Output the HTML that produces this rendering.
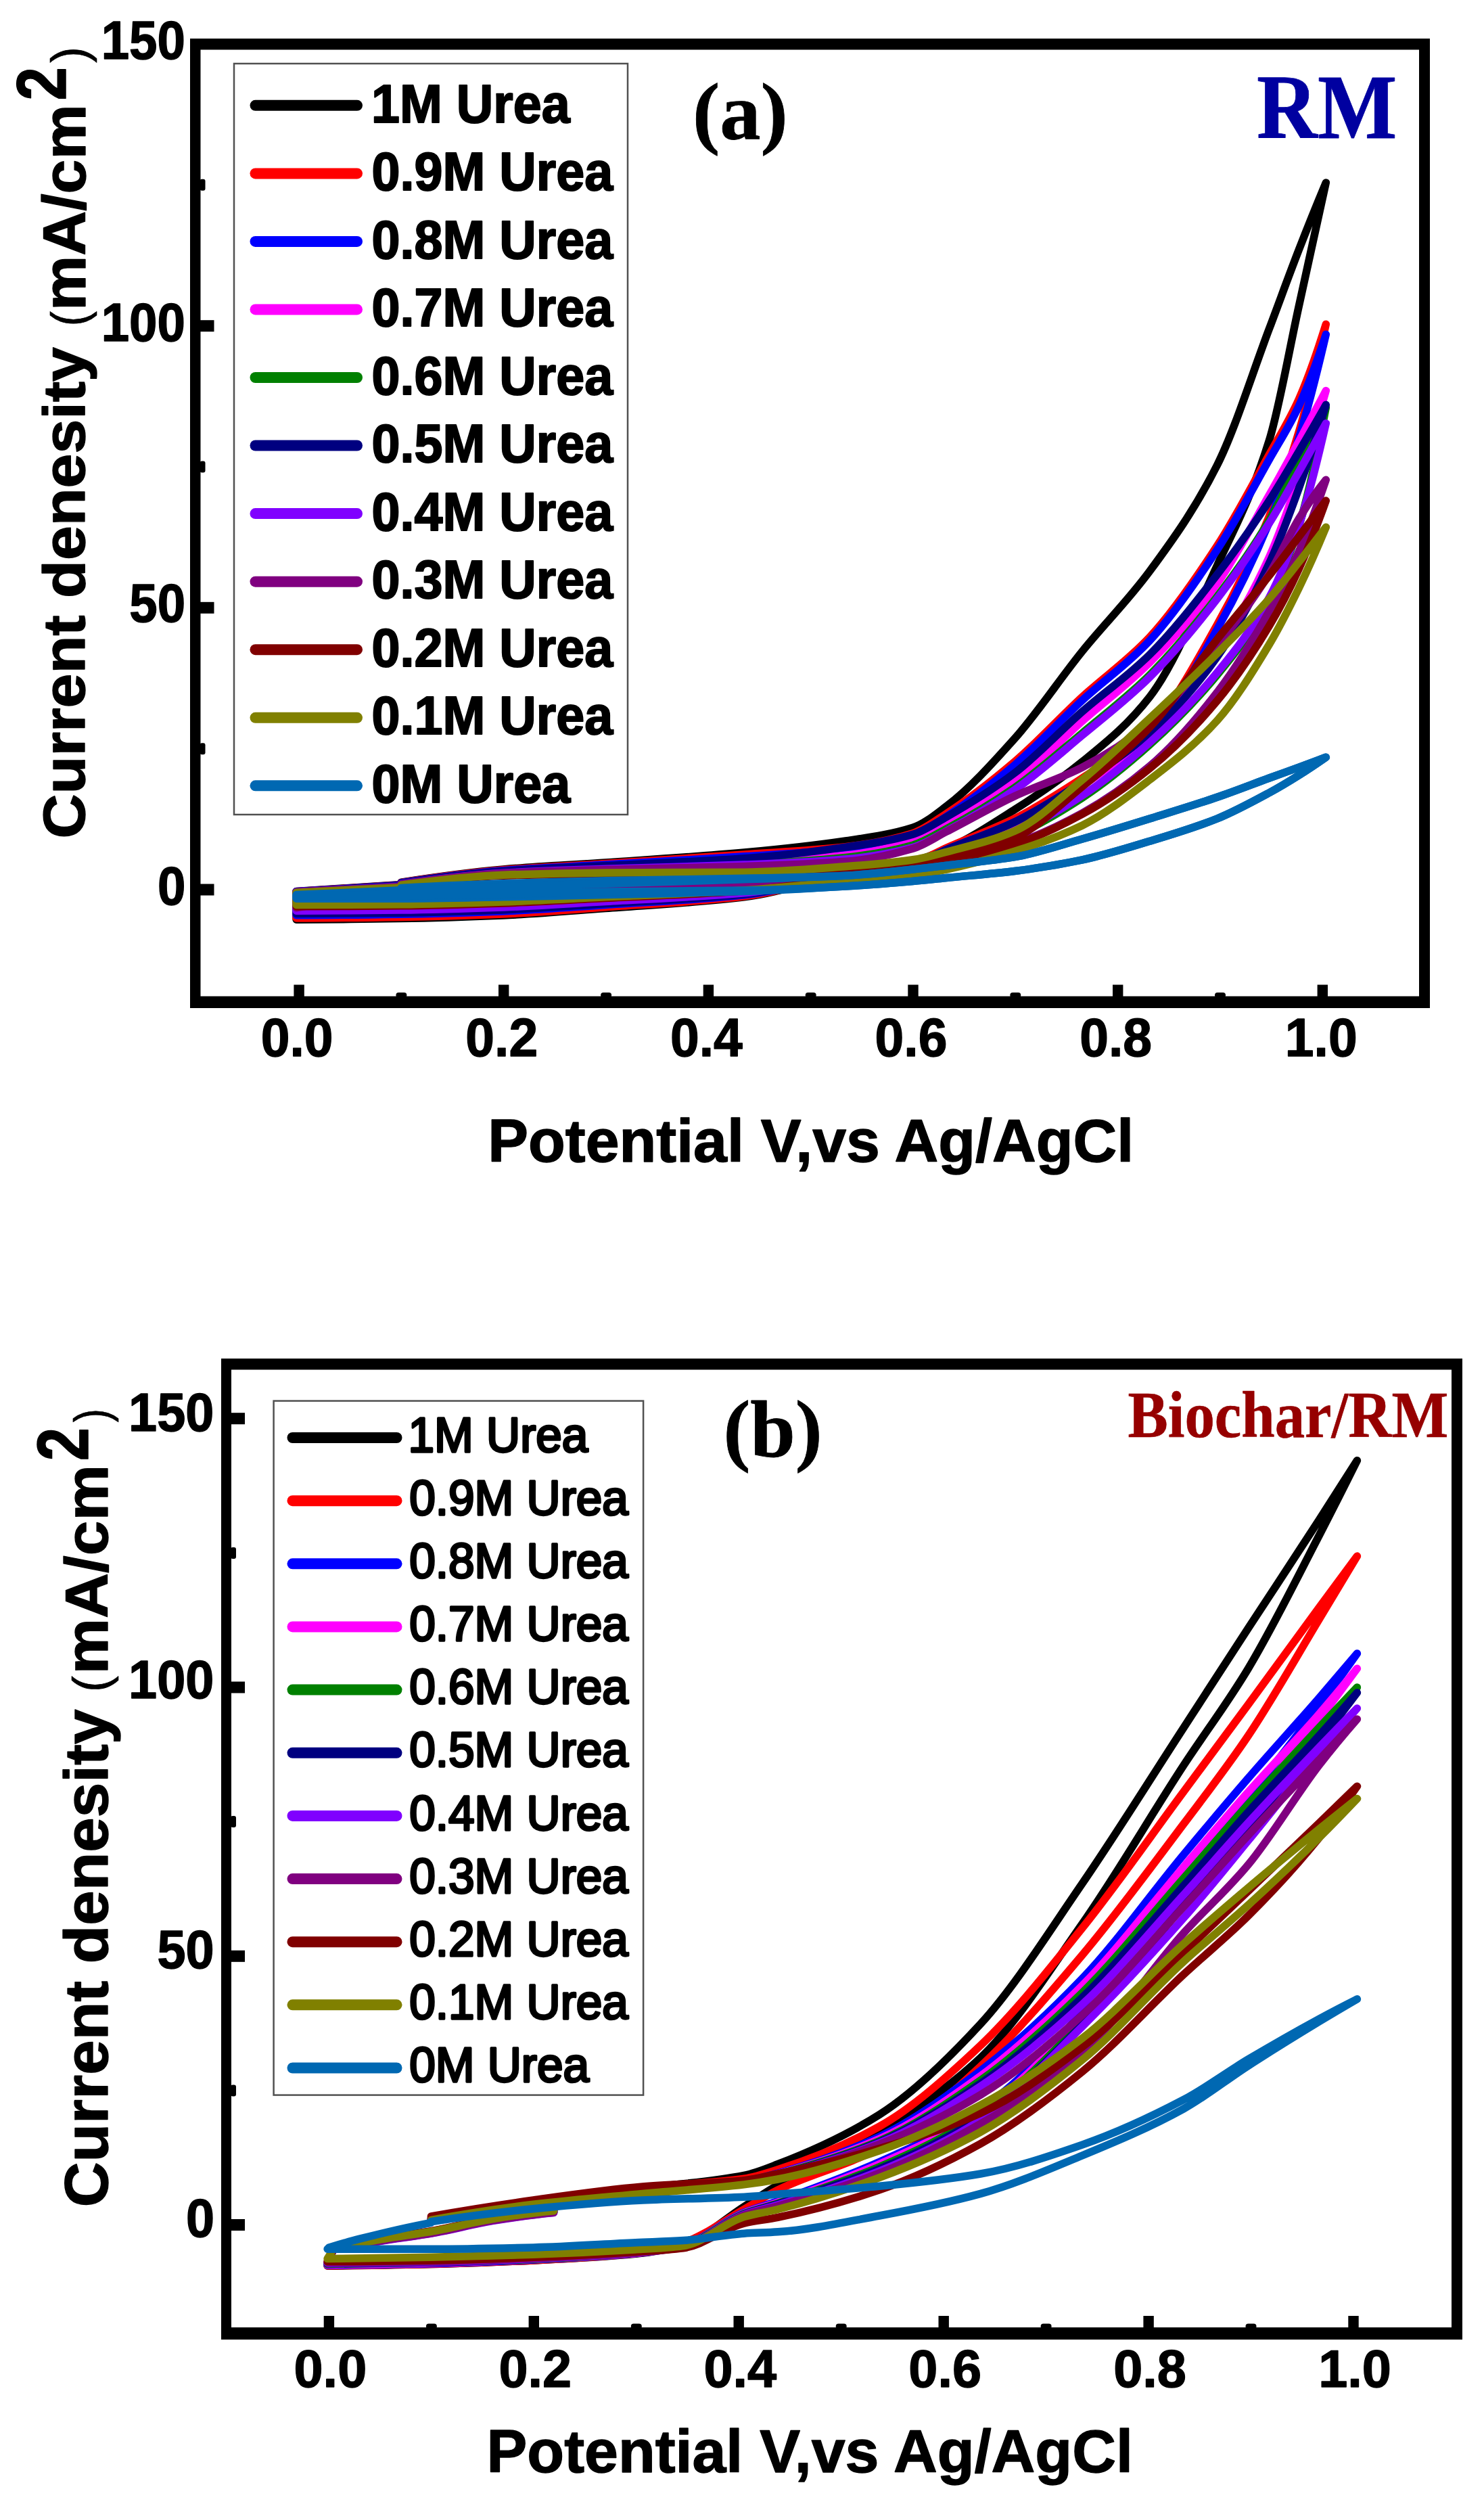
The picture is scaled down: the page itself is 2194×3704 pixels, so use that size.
<!DOCTYPE html>
<html lang="en"><head><meta charset="utf-8"><title>CV curves of RM and Biochar/RM in urea</title>
<style>html,body{margin:0;padding:0;background:#fff}svg{display:block}text{white-space:pre}</style></head><body>
<svg width="2194" height="3704" viewBox="0 0 2194 3704">
<rect width="2194" height="3704" fill="#fff"/>
<g fill="none" stroke-width="11.5" stroke-linecap="round" stroke-linejoin="round">
<path stroke="#000000" d="M593.0 1304.2C643.3 1296.3 693.7 1289.4 744.0 1285.0C794.3 1280.6 844.7 1278.5 895.0 1275.0C963.5 1270.3 1031.9 1266.2 1100.4 1260.0C1150.2 1255.5 1200.0 1250.2 1249.8 1242.9C1283.1 1238.0 1316.3 1233.9 1349.5 1223.3C1366.1 1218.0 1382.7 1204.2 1399.3 1191.7C1432.9 1166.3 1466.5 1129.3 1500.1 1091.7C1533.4 1054.2 1566.8 1003.8 1600.2 962.5C1633.4 921.4 1666.6 889.1 1699.8 844.2C1733.0 799.2 1766.3 753.5 1799.5 687.5C1825.2 636.5 1850.8 553.7 1876.5 485.8C1891.1 447.3 1905.7 406.6 1920.3 369.2C1933.6 334.9 1947.0 301.9 1960.3 270.0L1960.3 270.0C1947.0 331.0 1933.6 391.9 1920.3 452.5C1905.7 518.8 1891.1 603.7 1876.5 650.8C1850.8 733.8 1825.2 780.4 1799.5 835.8C1766.3 907.6 1733.0 987.2 1699.8 1030.0C1666.6 1072.8 1633.4 1098.7 1600.2 1125.8C1566.8 1153.0 1533.4 1175.4 1500.1 1196.7C1466.5 1218.1 1432.9 1240.3 1399.3 1255.0C1382.7 1262.3 1366.1 1269.1 1349.5 1273.3C1316.3 1281.8 1283.1 1284.9 1249.8 1291.7C1200.0 1301.8 1150.2 1319.7 1100.4 1325.8C1031.9 1334.2 963.5 1337.4 895.0 1342.5C844.7 1346.2 794.3 1350.8 744.0 1352.9C693.7 1355.0 643.3 1356.7 593.0 1357.5C541.4 1358.3 489.7 1359.1 438.1 1359.2L438.1 1317.5L593.0 1307.5"/>
<path stroke="#ff0000" d="M593.0 1304.6C643.3 1296.8 693.7 1290.0 744.0 1285.8C794.3 1281.7 844.7 1279.7 895.0 1276.5C963.5 1272.1 1031.9 1267.8 1100.4 1262.9C1150.2 1259.4 1200.0 1257.3 1249.8 1251.7C1283.1 1247.9 1316.3 1242.2 1349.5 1231.7C1366.1 1226.4 1382.7 1213.3 1399.3 1202.5C1432.9 1180.6 1466.5 1154.3 1500.1 1125.8C1533.4 1097.5 1566.8 1060.7 1600.2 1030.0C1633.4 999.4 1666.6 977.3 1699.8 941.7C1733.0 906.1 1766.3 857.7 1799.5 806.7C1825.2 767.2 1850.8 718.2 1876.5 671.7C1891.1 645.2 1905.7 622.6 1920.3 590.0C1933.6 560.2 1947.0 521.9 1960.3 479.2L1960.3 479.2C1947.0 539.4 1933.6 593.9 1920.3 638.3C1905.7 687.0 1891.1 727.7 1876.5 763.3C1850.8 826.0 1825.2 877.5 1799.5 923.3C1766.3 982.6 1733.0 1044.6 1699.8 1077.5C1666.6 1110.4 1633.4 1128.2 1600.2 1150.0C1566.8 1171.9 1533.4 1193.3 1500.1 1210.0C1466.5 1226.8 1432.9 1238.5 1399.3 1253.3C1382.7 1260.7 1366.1 1271.4 1349.5 1275.8C1316.3 1284.7 1283.1 1287.0 1249.8 1293.3C1200.0 1302.8 1150.2 1319.0 1100.4 1324.8C1031.9 1332.8 963.5 1335.9 895.0 1340.8C844.7 1344.4 794.3 1348.8 744.0 1350.9C693.7 1353.0 643.3 1354.6 593.0 1355.4C541.4 1356.2 489.7 1357.0 438.1 1357.0L438.1 1317.7L593.0 1307.9"/>
<path stroke="#0000ff" d="M593.0 1305.0C643.3 1297.3 693.7 1290.6 744.0 1286.7C794.3 1282.7 844.7 1280.9 895.0 1278.0C963.5 1274.0 1031.9 1270.3 1100.4 1265.8C1150.2 1262.6 1200.0 1260.4 1249.8 1255.0C1283.1 1251.4 1316.3 1246.0 1349.5 1235.8C1366.1 1230.7 1382.7 1217.5 1399.3 1206.7C1432.9 1184.9 1466.5 1159.1 1500.1 1130.8C1533.4 1102.7 1566.8 1065.7 1600.2 1035.0C1633.4 1004.4 1666.6 982.2 1699.8 946.7C1733.0 911.2 1766.3 863.1 1799.5 812.5C1825.2 773.4 1850.8 724.7 1876.5 679.2C1891.1 653.3 1905.7 631.4 1920.3 600.0C1933.6 571.3 1947.0 534.8 1960.3 494.2L1960.3 494.2C1947.0 551.6 1933.6 603.9 1920.3 647.5C1905.7 695.2 1891.1 736.4 1876.5 771.7C1850.8 833.8 1825.2 884.5 1799.5 930.0C1766.3 988.8 1733.0 1050.5 1699.8 1083.3C1666.6 1116.2 1633.4 1134.2 1600.2 1155.8C1566.8 1177.6 1533.4 1198.9 1500.1 1215.0C1466.5 1231.1 1432.9 1241.7 1399.3 1255.8C1382.7 1262.8 1366.1 1273.3 1349.5 1277.5C1316.3 1285.9 1283.1 1288.3 1249.8 1294.2C1200.0 1303.0 1150.2 1317.5 1100.4 1322.8C1031.9 1330.1 963.5 1333.0 895.0 1337.5C844.7 1340.8 794.3 1344.9 744.0 1346.9C693.7 1348.9 643.3 1350.6 593.0 1351.2C541.4 1352.0 489.7 1352.7 438.1 1352.7L438.1 1317.8L593.0 1308.3"/>
<path stroke="#ff00ff" d="M593.0 1306.0C643.3 1298.6 693.7 1292.1 744.0 1288.8C794.3 1285.4 844.7 1284.0 895.0 1281.8C963.5 1278.7 1031.9 1276.5 1100.4 1273.1C1150.2 1270.6 1200.0 1269.0 1249.8 1264.2C1283.1 1261.0 1316.3 1253.8 1349.5 1243.3C1366.1 1238.1 1382.7 1226.0 1399.3 1216.7C1432.9 1197.7 1466.5 1180.1 1500.1 1155.8C1533.4 1131.7 1566.8 1095.3 1600.2 1065.8C1633.4 1036.5 1666.6 1012.3 1699.8 979.2C1733.0 946.0 1766.3 908.9 1799.5 862.5C1825.2 826.6 1850.8 776.8 1876.5 731.7C1891.1 706.0 1905.7 679.4 1920.3 652.5C1933.6 627.9 1947.0 602.9 1960.3 577.5L1960.3 577.5C1947.0 624.1 1933.6 667.7 1920.3 706.7C1905.7 749.3 1891.1 791.3 1876.5 823.3C1850.8 879.6 1825.2 924.2 1799.5 962.5C1766.3 1012.1 1733.0 1056.7 1699.8 1087.5C1666.6 1118.3 1633.4 1139.2 1600.2 1160.8C1566.8 1182.5 1533.4 1203.6 1500.1 1219.2C1466.5 1234.8 1432.9 1244.8 1399.3 1258.3C1382.7 1265.1 1366.1 1275.1 1349.5 1279.2C1316.3 1287.2 1283.1 1289.5 1249.8 1295.0C1200.0 1303.2 1150.2 1316.0 1100.4 1320.8C1031.9 1327.5 963.5 1330.0 895.0 1334.2C844.7 1337.2 794.3 1341.0 744.0 1342.9C693.7 1344.8 643.3 1346.5 593.0 1347.1C541.4 1347.7 489.7 1348.3 438.1 1348.3L438.1 1318.2L593.0 1309.4"/>
<path stroke="#008000" d="M593.0 1306.7C643.3 1299.3 693.7 1292.9 744.0 1290.0C794.3 1287.1 844.7 1285.8 895.0 1284.0C963.5 1281.6 1031.9 1280.5 1100.4 1277.5C1150.2 1275.3 1200.0 1272.5 1249.8 1267.5C1283.1 1264.1 1316.3 1258.5 1349.5 1249.2C1366.1 1244.5 1382.7 1233.8 1399.3 1225.0C1432.9 1207.2 1466.5 1187.4 1500.1 1164.2C1533.4 1141.1 1566.8 1111.1 1600.2 1083.3C1633.4 1055.6 1666.6 1030.4 1699.8 997.5C1733.0 964.6 1766.3 924.9 1799.5 881.7C1825.2 848.3 1850.8 813.1 1876.5 769.2C1891.1 744.2 1905.7 710.7 1920.3 681.7C1933.6 655.2 1947.0 628.8 1960.3 602.5L1960.3 602.5C1947.0 672.8 1933.6 735.0 1920.3 777.5C1905.7 824.0 1891.1 859.4 1876.5 886.7C1850.8 934.7 1825.2 966.3 1799.5 997.5C1766.3 1037.8 1733.0 1071.1 1699.8 1100.8C1666.6 1130.5 1633.4 1157.5 1600.2 1179.2C1566.8 1200.9 1533.4 1221.1 1500.1 1235.0C1466.5 1248.9 1432.9 1258.2 1399.3 1268.3C1382.7 1273.4 1366.1 1279.2 1349.5 1282.5C1316.3 1289.0 1283.1 1291.7 1249.8 1296.7C1200.0 1304.1 1150.2 1315.7 1100.4 1320.3C1031.9 1326.7 963.5 1329.2 895.0 1333.3C844.7 1336.3 794.3 1340.1 744.0 1341.9C693.7 1343.8 643.3 1345.4 593.0 1346.0C541.4 1346.7 489.7 1347.2 438.1 1347.2L438.1 1318.5L593.0 1310.0"/>
<path stroke="#000080" d="M593.0 1305.4C643.3 1297.8 693.7 1291.2 744.0 1287.5C794.3 1283.8 844.7 1282.2 895.0 1279.5C963.5 1275.9 1031.9 1273.7 1100.4 1268.8C1150.2 1265.1 1200.0 1259.2 1249.8 1252.1C1283.1 1247.4 1316.3 1243.0 1349.5 1233.3C1366.1 1228.5 1382.7 1216.9 1399.3 1207.5C1432.9 1188.4 1466.5 1167.8 1500.1 1142.5C1533.4 1117.3 1566.8 1080.9 1600.2 1051.7C1633.4 1022.6 1666.6 1000.3 1699.8 967.5C1733.0 934.7 1766.3 892.3 1799.5 849.2C1825.2 815.9 1850.8 779.5 1876.5 740.0C1891.1 717.5 1905.7 692.2 1920.3 667.5C1933.6 644.9 1947.0 621.9 1960.3 598.3L1960.3 598.3C1947.0 643.0 1933.6 684.5 1920.3 721.7C1905.7 762.3 1891.1 801.3 1876.5 832.5C1850.8 887.3 1825.2 934.9 1799.5 970.8C1766.3 1017.3 1733.0 1053.9 1699.8 1083.3C1666.6 1112.7 1633.4 1134.2 1600.2 1155.8C1566.8 1177.6 1533.4 1198.9 1500.1 1215.0C1466.5 1231.1 1432.9 1241.7 1399.3 1255.8C1382.7 1262.8 1366.1 1273.3 1349.5 1277.5C1316.3 1285.9 1283.1 1288.3 1249.8 1294.2C1200.0 1302.9 1150.2 1316.7 1100.4 1321.8C1031.9 1328.8 963.5 1331.5 895.0 1335.8C844.7 1339.0 794.3 1343.0 744.0 1344.9C693.7 1346.8 643.3 1348.5 593.0 1349.2C541.4 1349.8 489.7 1350.5 438.1 1350.5L438.1 1318.0L593.0 1308.8"/>
<path stroke="#8000ff" d="M593.0 1306.8C643.3 1299.4 693.7 1293.1 744.0 1290.2C794.3 1287.3 844.7 1286.0 895.0 1284.3C963.5 1282.0 1031.9 1280.8 1100.4 1278.1C1150.2 1276.1 1200.0 1274.3 1249.8 1270.0C1283.1 1267.2 1316.3 1261.5 1349.5 1252.5C1366.1 1248.0 1382.7 1237.2 1399.3 1228.3C1432.9 1210.5 1466.5 1190.7 1500.1 1167.5C1533.4 1144.4 1566.8 1114.5 1600.2 1086.7C1633.4 1059.0 1666.6 1033.7 1699.8 1000.8C1733.0 968.0 1766.3 928.1 1799.5 885.0C1825.2 851.7 1850.8 814.2 1876.5 773.3C1891.1 750.1 1905.7 723.2 1920.3 697.5C1933.6 674.0 1947.0 650.1 1960.3 625.8L1960.3 625.8C1947.0 684.6 1933.6 737.1 1920.3 776.7C1905.7 820.0 1891.1 856.3 1876.5 883.3C1850.8 930.9 1825.2 963.0 1799.5 994.2C1766.3 1034.5 1733.0 1067.8 1699.8 1097.5C1666.6 1127.2 1633.4 1154.2 1600.2 1175.8C1566.8 1197.6 1533.4 1217.8 1500.1 1231.7C1466.5 1245.6 1432.9 1253.8 1399.3 1265.0C1382.7 1270.5 1366.1 1278.1 1349.5 1281.7C1316.3 1288.9 1283.1 1291.6 1249.8 1296.7C1200.0 1304.3 1150.2 1315.3 1100.4 1319.8C1031.9 1326.0 963.5 1328.5 895.0 1332.5C844.7 1335.4 794.3 1339.1 744.0 1340.9C693.7 1342.7 643.3 1344.4 593.0 1345.0C541.4 1345.6 489.7 1346.2 438.1 1346.2L438.1 1318.5L593.0 1310.1"/>
<path stroke="#800080" d="M593.0 1307.1C643.3 1299.8 693.7 1293.5 744.0 1290.8C794.3 1288.2 844.7 1287.0 895.0 1285.5C963.5 1283.5 1031.9 1282.7 1100.4 1280.4C1150.2 1278.8 1200.0 1277.3 1249.8 1273.3C1283.1 1270.7 1316.3 1263.9 1349.5 1254.2C1366.1 1249.3 1382.7 1237.6 1399.3 1229.2C1432.9 1212.0 1466.5 1192.4 1500.1 1176.7C1533.4 1161.1 1566.8 1151.4 1600.2 1134.2C1633.4 1117.0 1666.6 1096.2 1699.8 1068.3C1733.0 1040.5 1766.3 995.8 1799.5 954.2C1825.2 922.0 1850.8 889.5 1876.5 848.3C1891.1 824.9 1905.7 790.3 1920.3 766.7C1933.6 745.1 1947.0 725.6 1960.3 709.2L1960.3 709.2C1947.0 748.4 1933.6 784.4 1920.3 815.0C1905.7 848.5 1891.1 877.4 1876.5 903.3C1850.8 949.0 1825.2 990.1 1799.5 1023.3C1766.3 1066.4 1733.0 1104.3 1699.8 1132.5C1666.6 1160.7 1633.4 1183.5 1600.2 1201.7C1566.8 1219.9 1533.4 1236.0 1500.1 1246.7C1466.5 1257.4 1432.9 1262.7 1399.3 1271.7C1382.7 1276.1 1366.1 1282.8 1349.5 1285.8C1316.3 1291.9 1283.1 1295.5 1249.8 1298.3C1200.0 1302.7 1150.2 1306.3 1100.4 1307.9C1031.9 1310.1 963.5 1310.5 895.0 1312.1C844.7 1313.2 794.3 1314.5 744.0 1315.8C693.7 1317.2 643.3 1317.9 593.0 1320.4C541.4 1323.0 489.7 1331.9 438.1 1341.8L438.1 1318.7L593.0 1310.4"/>
<path stroke="#800000" d="M593.0 1308.8C643.3 1302.0 693.7 1295.8 744.0 1294.3C794.3 1292.9 844.7 1291.8 895.0 1291.8C963.5 1291.8 1031.9 1292.7 1100.4 1292.7C1150.2 1292.7 1200.0 1290.1 1249.8 1287.5C1283.1 1285.7 1316.3 1282.1 1349.5 1277.5C1366.1 1275.2 1382.7 1271.4 1399.3 1267.5C1432.9 1259.7 1466.5 1252.4 1500.1 1238.3C1533.4 1224.3 1566.8 1189.6 1600.2 1162.5C1633.4 1135.5 1666.6 1109.9 1699.8 1075.0C1733.0 1040.1 1766.3 986.9 1799.5 945.0C1825.2 912.6 1850.8 883.4 1876.5 850.8C1891.1 832.3 1905.7 812.6 1920.3 793.3C1933.6 775.7 1947.0 757.9 1960.3 740.0L1960.3 740.0C1947.0 777.4 1933.6 811.7 1920.3 840.8C1905.7 872.7 1891.1 900.7 1876.5 925.0C1850.8 967.8 1825.2 1005.2 1799.5 1035.8C1766.3 1075.4 1733.0 1109.0 1699.8 1135.8C1666.6 1162.7 1633.4 1185.4 1600.2 1203.3C1566.8 1221.4 1533.4 1237.7 1500.1 1248.3C1466.5 1259.1 1432.9 1264.7 1399.3 1273.3C1382.7 1277.6 1366.1 1283.8 1349.5 1286.7C1316.3 1292.3 1283.1 1294.3 1249.8 1298.3C1200.0 1304.3 1150.2 1313.1 1100.4 1316.8C1031.9 1322.0 963.5 1324.0 895.0 1327.5C844.7 1330.0 794.3 1333.2 744.0 1334.9C693.7 1336.6 643.3 1338.3 593.0 1338.7C541.4 1339.2 489.7 1339.7 438.1 1339.7L438.1 1319.4L593.0 1312.2"/>
<path stroke="#808000" d="M593.0 1308.3C643.3 1301.4 693.7 1295.2 744.0 1293.3C794.3 1291.5 844.7 1290.4 895.0 1290.0C963.5 1289.5 1031.9 1289.7 1100.4 1289.2C1150.2 1288.8 1200.0 1284.5 1249.8 1280.8C1283.1 1278.4 1316.3 1275.7 1349.5 1270.8C1366.1 1268.4 1382.7 1263.5 1399.3 1259.2C1432.9 1250.4 1466.5 1243.0 1500.1 1228.3C1533.4 1213.8 1566.8 1180.1 1600.2 1152.5C1633.4 1125.0 1666.6 1092.8 1699.8 1061.7C1733.0 1030.6 1766.3 999.2 1799.5 965.8C1825.2 940.0 1850.8 914.4 1876.5 885.0C1891.1 868.3 1905.7 849.3 1920.3 830.8C1933.6 814.0 1947.0 796.7 1960.3 779.2L1960.3 779.2C1947.0 811.4 1933.6 841.6 1920.3 869.2C1905.7 899.3 1891.1 928.1 1876.5 952.5C1850.8 995.4 1825.2 1036.5 1799.5 1065.0C1766.3 1101.8 1733.0 1127.1 1699.8 1152.5C1666.6 1177.9 1633.4 1203.7 1600.2 1220.0C1566.8 1236.3 1533.4 1247.9 1500.1 1258.3C1466.5 1268.8 1432.9 1277.9 1399.3 1285.0C1382.7 1288.5 1366.1 1292.2 1349.5 1294.2C1316.3 1298.2 1283.1 1299.6 1249.8 1302.5C1200.0 1306.8 1150.2 1312.6 1100.4 1315.8C1031.9 1320.2 963.5 1322.6 895.0 1325.8C844.7 1328.2 794.3 1331.3 744.0 1332.9C693.7 1334.6 643.3 1336.2 593.0 1336.7C541.4 1337.1 489.7 1337.5 438.1 1337.5L438.1 1319.2L593.0 1311.7"/>
<path stroke="#0068b2" d="M593.0 1312.5C643.3 1309.9 693.7 1307.5 744.0 1305.8C794.3 1304.1 844.7 1302.7 895.0 1301.7C963.5 1300.2 1031.9 1299.8 1100.4 1298.3C1150.2 1297.3 1200.0 1296.4 1249.8 1294.2C1283.1 1292.7 1316.3 1288.5 1349.5 1285.0C1366.1 1283.3 1382.7 1281.2 1399.3 1279.2C1432.9 1275.1 1466.5 1272.4 1500.1 1266.7C1533.4 1261.0 1566.8 1249.4 1600.2 1240.0C1633.4 1230.6 1666.6 1220.3 1699.8 1210.0C1733.0 1199.7 1766.3 1189.7 1799.5 1178.3C1825.2 1169.6 1850.8 1159.4 1876.5 1150.0C1891.1 1144.7 1905.7 1139.5 1920.3 1134.2C1933.6 1129.3 1947.0 1124.3 1960.3 1119.2L1960.3 1119.2C1947.0 1128.5 1933.6 1137.5 1920.3 1145.8C1905.7 1155.0 1891.1 1163.7 1876.5 1171.7C1850.8 1185.6 1825.2 1199.6 1799.5 1210.0C1766.3 1223.4 1733.0 1233.3 1699.8 1243.3C1666.6 1253.4 1633.4 1263.9 1600.2 1270.8C1566.8 1277.8 1533.4 1283.3 1500.1 1287.5C1466.5 1291.7 1432.9 1294.1 1399.3 1297.5C1382.7 1299.2 1366.1 1301.0 1349.5 1302.5C1316.3 1305.4 1283.1 1308.0 1249.8 1310.0C1200.0 1313.0 1150.2 1315.8 1100.4 1317.5C1031.9 1319.8 963.5 1320.9 895.0 1322.5C844.7 1323.7 794.3 1324.9 744.0 1325.8C693.7 1326.8 643.3 1328.3 593.0 1328.3C541.4 1328.3 489.7 1328.3 438.1 1328.3L438.1 1322.5L593.0 1315.8"/>
<path stroke="#0068b2" d="M593.0 1317.1C643.3 1314.4 693.7 1312.1 744.0 1310.4C794.3 1308.7 844.7 1307.7 895.0 1306.3C963.5 1304.2 1031.9 1302.1 1100.4 1299.7C1150.2 1298.0 1200.0 1296.9 1249.8 1294.2C1283.1 1292.4 1316.3 1288.5 1349.5 1285.0C1366.1 1283.3 1382.7 1281.2 1399.3 1279.2C1432.9 1275.1 1466.5 1272.4 1500.1 1266.7C1533.4 1261.0 1566.8 1249.4 1600.2 1240.0C1633.4 1230.6 1666.6 1220.3 1699.8 1210.0C1733.0 1199.7 1766.3 1189.7 1799.5 1178.3C1825.2 1169.6 1850.8 1159.4 1876.5 1150.0C1891.1 1144.7 1905.7 1139.5 1920.3 1134.2C1933.6 1129.3 1947.0 1124.3 1960.3 1119.2L1960.3 1119.2C1947.0 1128.5 1933.6 1137.5 1920.3 1145.8C1905.7 1155.0 1891.1 1163.7 1876.5 1171.7C1850.8 1185.6 1825.2 1199.6 1799.5 1210.0C1766.3 1223.4 1733.0 1233.3 1699.8 1243.3C1666.6 1253.4 1633.4 1263.9 1600.2 1270.8C1566.8 1277.8 1533.4 1283.3 1500.1 1287.5C1466.5 1291.7 1432.9 1294.1 1399.3 1297.5C1382.7 1299.2 1366.1 1301.0 1349.5 1302.5C1316.3 1305.4 1283.1 1308.2 1249.8 1310.0C1200.0 1312.7 1150.2 1315.4 1100.4 1316.1C1031.9 1317.1 963.5 1317.0 895.0 1317.9C844.7 1318.6 794.3 1320.3 744.0 1321.2C693.7 1322.2 643.3 1323.7 593.0 1323.7C541.4 1323.7 489.7 1323.7 438.1 1323.7L438.1 1327.1L593.0 1320.4"/>
</g>
<path d="M281.0 57.0H2114.0V1490.0H281.0ZM296.5 73.5V1472.5H2098.0V73.5Z" fill="#000" fill-rule="evenodd"/>
<g fill="#000"><rect x="434.4" y="1455.5" width="15.4" height="18"/><rect x="737.0" y="1455.5" width="15.4" height="18"/><rect x="1039.7" y="1455.5" width="15.4" height="18"/><rect x="1342.3" y="1455.5" width="15.4" height="18"/><rect x="1645.0" y="1455.5" width="15.4" height="18"/><rect x="1947.6" y="1455.5" width="15.4" height="18"/><rect x="585.4" y="1467.0" width="16" height="8" rx="4"/><rect x="888.1" y="1467.0" width="16" height="8" rx="4"/><rect x="1190.7" y="1467.0" width="16" height="8" rx="4"/><rect x="1493.3" y="1467.0" width="16" height="8" rx="4"/><rect x="1796.0" y="1467.0" width="16" height="8" rx="4"/><rect x="295.5" y="1306.5" width="21.0" height="17"/><rect x="295.5" y="889.8" width="21.0" height="17"/><rect x="295.5" y="473.2" width="21.0" height="17"/><rect x="295.5" y="1098.2" width="8" height="17" rx="3"/><rect x="295.5" y="681.5" width="8" height="17" rx="3"/><rect x="295.5" y="264.8" width="8" height="17" rx="3"/></g>
<rect x="346" y="94" width="582" height="1110" fill="#fff" stroke="#505050" stroke-width="2.5"/>
<line x1="377.5" y1="155.8" x2="528" y2="155.8" stroke="#000000" stroke-width="16" stroke-linecap="round"/>
<text transform="translate(548.97 181.00) scale(0.7550 0.8014)" font-family="Liberation Sans, Arial, sans-serif" font-size="100" font-weight="bold" fill="#000" text-anchor="start" stroke="#000" stroke-width="2.57" stroke-linejoin="round">1M Urea</text>
<line x1="377.5" y1="256.4" x2="528" y2="256.4" stroke="#ff0000" stroke-width="16" stroke-linecap="round"/>
<text transform="translate(549.48 281.45) scale(0.7550 0.8014)" font-family="Liberation Sans, Arial, sans-serif" font-size="100" font-weight="bold" fill="#000" text-anchor="start" stroke="#000" stroke-width="2.57" stroke-linejoin="round">0.9M Urea</text>
<line x1="377.5" y1="356.9" x2="528" y2="356.9" stroke="#0000ff" stroke-width="16" stroke-linecap="round"/>
<text transform="translate(549.48 381.90) scale(0.7550 0.8014)" font-family="Liberation Sans, Arial, sans-serif" font-size="100" font-weight="bold" fill="#000" text-anchor="start" stroke="#000" stroke-width="2.57" stroke-linejoin="round">0.8M Urea</text>
<line x1="377.5" y1="457.4" x2="528" y2="457.4" stroke="#ff00ff" stroke-width="16" stroke-linecap="round"/>
<text transform="translate(549.48 482.35) scale(0.7550 0.8014)" font-family="Liberation Sans, Arial, sans-serif" font-size="100" font-weight="bold" fill="#000" text-anchor="start" stroke="#000" stroke-width="2.57" stroke-linejoin="round">0.7M Urea</text>
<line x1="377.5" y1="558.0" x2="528" y2="558.0" stroke="#008000" stroke-width="16" stroke-linecap="round"/>
<text transform="translate(549.48 582.80) scale(0.7550 0.8014)" font-family="Liberation Sans, Arial, sans-serif" font-size="100" font-weight="bold" fill="#000" text-anchor="start" stroke="#000" stroke-width="2.57" stroke-linejoin="round">0.6M Urea</text>
<line x1="377.5" y1="658.5" x2="528" y2="658.5" stroke="#000080" stroke-width="16" stroke-linecap="round"/>
<text transform="translate(549.48 683.25) scale(0.7550 0.8014)" font-family="Liberation Sans, Arial, sans-serif" font-size="100" font-weight="bold" fill="#000" text-anchor="start" stroke="#000" stroke-width="2.57" stroke-linejoin="round">0.5M Urea</text>
<line x1="377.5" y1="759.1" x2="528" y2="759.1" stroke="#8000ff" stroke-width="16" stroke-linecap="round"/>
<text transform="translate(549.48 783.70) scale(0.7550 0.8014)" font-family="Liberation Sans, Arial, sans-serif" font-size="100" font-weight="bold" fill="#000" text-anchor="start" stroke="#000" stroke-width="2.57" stroke-linejoin="round">0.4M Urea</text>
<line x1="377.5" y1="859.7" x2="528" y2="859.7" stroke="#800080" stroke-width="16" stroke-linecap="round"/>
<text transform="translate(549.48 884.15) scale(0.7550 0.8014)" font-family="Liberation Sans, Arial, sans-serif" font-size="100" font-weight="bold" fill="#000" text-anchor="start" stroke="#000" stroke-width="2.57" stroke-linejoin="round">0.3M Urea</text>
<line x1="377.5" y1="960.2" x2="528" y2="960.2" stroke="#800000" stroke-width="16" stroke-linecap="round"/>
<text transform="translate(549.48 984.60) scale(0.7550 0.8014)" font-family="Liberation Sans, Arial, sans-serif" font-size="100" font-weight="bold" fill="#000" text-anchor="start" stroke="#000" stroke-width="2.57" stroke-linejoin="round">0.2M Urea</text>
<line x1="377.5" y1="1060.8" x2="528" y2="1060.8" stroke="#808000" stroke-width="16" stroke-linecap="round"/>
<text transform="translate(549.48 1085.05) scale(0.7550 0.8014)" font-family="Liberation Sans, Arial, sans-serif" font-size="100" font-weight="bold" fill="#000" text-anchor="start" stroke="#000" stroke-width="2.57" stroke-linejoin="round">0.1M Urea</text>
<line x1="377.5" y1="1161.3" x2="528" y2="1161.3" stroke="#0068b2" stroke-width="16" stroke-linecap="round"/>
<text transform="translate(549.48 1185.50) scale(0.7550 0.8014)" font-family="Liberation Sans, Arial, sans-serif" font-size="100" font-weight="bold" fill="#000" text-anchor="start" stroke="#000" stroke-width="2.57" stroke-linejoin="round">0M Urea</text>
<text transform="translate(233.03 1337.45) scale(0.7446 0.8014)" font-family="Liberation Sans, Arial, sans-serif" font-size="100" font-weight="bold" fill="#000" text-anchor="start" stroke="#000" stroke-width="1.81" stroke-linejoin="round">0</text>
<text transform="translate(191.33 918.78) scale(0.7446 0.8014)" font-family="Liberation Sans, Arial, sans-serif" font-size="100" font-weight="bold" fill="#000" text-anchor="start" stroke="#000" stroke-width="1.81" stroke-linejoin="round">50</text>
<text transform="translate(149.63 504.12) scale(0.7446 0.8014)" font-family="Liberation Sans, Arial, sans-serif" font-size="100" font-weight="bold" fill="#000" text-anchor="start" stroke="#000" stroke-width="1.81" stroke-linejoin="round">100</text>
<text transform="translate(149.63 87.45) scale(0.7446 0.8014)" font-family="Liberation Sans, Arial, sans-serif" font-size="100" font-weight="bold" fill="#000" text-anchor="start" stroke="#000" stroke-width="1.81" stroke-linejoin="round">150</text>
<text transform="translate(385.67 1561.00) scale(0.7687 0.7972)" font-family="Liberation Sans, Arial, sans-serif" font-size="100" font-weight="bold" fill="#000" text-anchor="start" stroke="#000" stroke-width="1.79" stroke-linejoin="round">0.0</text>
<text transform="translate(688.31 1561.00) scale(0.7687 0.7972)" font-family="Liberation Sans, Arial, sans-serif" font-size="100" font-weight="bold" fill="#000" text-anchor="start" stroke="#000" stroke-width="1.79" stroke-linejoin="round">0.2</text>
<text transform="translate(990.95 1561.00) scale(0.7687 0.7972)" font-family="Liberation Sans, Arial, sans-serif" font-size="100" font-weight="bold" fill="#000" text-anchor="start" stroke="#000" stroke-width="1.79" stroke-linejoin="round">0.4</text>
<text transform="translate(1293.59 1561.00) scale(0.7687 0.7972)" font-family="Liberation Sans, Arial, sans-serif" font-size="100" font-weight="bold" fill="#000" text-anchor="start" stroke="#000" stroke-width="1.79" stroke-linejoin="round">0.6</text>
<text transform="translate(1596.23 1561.00) scale(0.7687 0.7972)" font-family="Liberation Sans, Arial, sans-serif" font-size="100" font-weight="bold" fill="#000" text-anchor="start" stroke="#000" stroke-width="1.79" stroke-linejoin="round">0.8</text>
<text transform="translate(1899.83 1561.00) scale(0.7687 0.7972)" font-family="Liberation Sans, Arial, sans-serif" font-size="100" font-weight="bold" fill="#000" text-anchor="start" stroke="#000" stroke-width="1.79" stroke-linejoin="round">1.0</text>
<text transform="translate(721.22 1717.12) scale(0.8966 0.8894)" font-family="Liberation Sans, Arial, sans-serif" font-size="100" font-weight="bold" fill="#000" text-anchor="start" stroke="#000" stroke-width="1.57" stroke-linejoin="round">Potential V,vs Ag/AgCl</text>
<text transform="translate(124.87 1239.46) rotate(-90) scale(0.9142 0.8777)" font-family="Liberation Sans, Arial, sans-serif" font-size="100" font-weight="bold" fill="#000" text-anchor="start" stroke="#000" stroke-width="1.56" stroke-linejoin="round">Current denesity</text>
<text transform="translate(128.04 482.22) rotate(-90) scale(0.6692 0.7457)" font-family="Liberation Sans, Arial, sans-serif" font-size="100" font-weight="normal" fill="#000" text-anchor="start" stroke="#000" stroke-width="0.85" stroke-linejoin="round">(</text>
<text transform="translate(126.11 459.00) rotate(-90) scale(0.9138 0.8892)" font-family="Liberation Sans, Arial, sans-serif" font-size="100" font-weight="bold" fill="#000" text-anchor="start" stroke="#000" stroke-width="1.55" stroke-linejoin="round">mA/cm</text>
<text transform="translate(97.20 148.47) rotate(-90) scale(0.8898 1.0443)" font-family="Liberation Sans, Arial, sans-serif" font-size="100" font-weight="bold" fill="#000" text-anchor="start" stroke="#000" stroke-width="1.45" stroke-linejoin="round">2</text>
<text transform="translate(127.81 92.92) rotate(-90) scale(0.7154 0.7426)" font-family="Liberation Sans, Arial, sans-serif" font-size="100" font-weight="normal" fill="#000" text-anchor="start" stroke="#000" stroke-width="0.82" stroke-linejoin="round">)</text>
<text transform="translate(1024.08 204.51) scale(1.2056 1.1900)" font-family="Liberation Serif, Times New Roman, serif" font-size="100" font-weight="bold" fill="#000" text-anchor="start" stroke="#000" stroke-width="0.67" stroke-linejoin="round">(a)</text>
<text transform="translate(1858.11 203.60) scale(1.2438 1.3538)" font-family="Liberation Serif, Times New Roman, serif" font-size="100" font-weight="bold" fill="#0000a0" text-anchor="start" stroke="#0000a0" stroke-width="0.62" stroke-linejoin="round">RM</text>
<g fill="none" stroke-width="11.5" stroke-linecap="round" stroke-linejoin="round">
<path stroke="#000000" d="M637.4 3279.0C687.7 3271.3 738.1 3263.9 788.4 3256.7C842.3 3249.1 896.1 3241.6 950.0 3234.5C1000.0 3227.9 1050.0 3225.4 1100.1 3215.4C1116.7 3212.1 1133.4 3205.1 1150.0 3198.7C1200.0 3179.5 1250.0 3157.2 1300.0 3125.6C1349.9 3094.1 1399.8 3045.6 1449.8 2991.4C1499.9 2936.9 1549.9 2856.8 1600.0 2784.0C1650.0 2711.3 1700.0 2630.5 1750.0 2553.6C1781.8 2504.6 1813.6 2455.4 1845.4 2406.6C1880.3 2353.1 1915.2 2300.9 1950.0 2246.9C1968.8 2217.9 1987.6 2188.4 2006.4 2158.7L2006.4 2158.7C1987.6 2196.5 1968.8 2233.7 1950.0 2270.0C1915.2 2337.2 1880.3 2408.2 1845.4 2466.2C1813.6 2519.1 1781.8 2560.6 1750.0 2609.2C1700.0 2685.6 1650.0 2772.1 1600.0 2843.6C1549.9 2915.2 1499.9 2994.3 1449.8 3041.4C1399.8 3088.4 1349.9 3120.5 1300.0 3151.1C1250.0 3181.6 1200.0 3200.5 1150.0 3229.7C1133.4 3239.4 1116.7 3250.9 1100.1 3261.5C1070.2 3280.4 1040.3 3309.3 1010.4 3317.9C986.7 3324.7 963.1 3329.0 939.4 3331.4C889.1 3336.5 838.7 3338.6 788.4 3340.9C738.1 3343.3 687.7 3345.4 637.4 3346.5C586.3 3347.6 535.2 3348.6 484.1 3348.9L492.4 3325.0L492.4 3325.0C515.6 3319.3 538.7 3314.1 561.9 3310.0C588.6 3305.1 615.3 3302.3 641.9 3297.6C670.6 3292.6 699.3 3284.4 728.0 3279.8C758.2 3274.9 788.4 3270.6 818.6 3267.8"/>
<path stroke="#ff0000" d="M637.4 3278.2C687.7 3270.5 738.1 3263.1 788.4 3255.9C842.3 3248.3 896.1 3239.5 950.0 3233.7C1000.0 3228.2 1050.0 3227.5 1100.1 3220.2C1116.7 3217.7 1133.4 3212.0 1150.0 3206.7C1200.0 3190.8 1250.0 3170.8 1300.0 3143.1C1349.9 3115.4 1399.8 3070.3 1449.8 3023.1C1499.9 2975.8 1549.9 2912.1 1600.0 2849.9C1650.0 2787.9 1700.0 2715.5 1750.0 2648.1C1781.8 2605.3 1813.6 2562.6 1845.4 2519.4C1880.3 2472.1 1915.2 2423.8 1950.0 2376.4C1968.8 2350.9 1987.6 2325.5 2006.4 2300.1L2006.4 2300.1C1987.6 2331.6 1968.8 2362.9 1950.0 2393.9C1915.2 2451.6 1880.3 2513.6 1845.4 2565.5C1813.6 2612.8 1781.8 2653.5 1750.0 2695.8C1700.0 2762.3 1650.0 2830.4 1600.0 2889.7C1549.9 2949.0 1499.9 3007.6 1449.8 3054.1C1399.8 3100.5 1349.9 3147.6 1300.0 3174.9C1250.0 3202.2 1200.0 3212.2 1150.0 3236.9C1133.4 3245.1 1116.7 3256.1 1100.1 3265.5C1070.2 3282.2 1040.3 3305.4 1010.4 3314.7C986.7 3322.1 963.1 3328.0 939.4 3330.6C889.1 3336.2 838.7 3338.5 788.4 3340.9C738.1 3343.3 687.7 3345.4 637.4 3346.5C586.3 3347.6 535.2 3348.6 484.1 3348.9L492.4 3325.0L492.4 3325.0C515.6 3319.1 538.7 3313.8 561.9 3309.6C588.6 3304.7 615.3 3301.9 641.9 3297.2C670.6 3292.2 699.3 3284.0 728.0 3279.4C758.2 3274.5 788.4 3270.2 818.6 3267.4"/>
<path stroke="#0000ff" d="M637.4 3279.8C687.7 3271.6 738.1 3264.1 788.4 3257.5C842.3 3250.4 896.1 3244.1 950.0 3238.4C1000.0 3233.2 1050.0 3231.5 1100.1 3224.1C1116.7 3221.7 1133.4 3216.9 1150.0 3212.2C1200.0 3198.4 1250.0 3181.4 1300.0 3158.2C1349.9 3135.0 1399.8 3098.3 1449.8 3060.5C1499.9 3022.5 1549.9 2976.7 1600.0 2924.6C1650.0 2872.6 1700.0 2801.1 1750.0 2741.1C1781.8 2702.9 1813.6 2665.1 1845.4 2628.3C1880.3 2587.9 1915.2 2550.1 1950.0 2509.9C1968.8 2488.2 1987.6 2466.2 2006.4 2443.9L2006.4 2443.9C1987.6 2470.5 1968.8 2496.7 1950.0 2521.8C1915.2 2568.5 1880.3 2613.4 1845.4 2656.9C1813.6 2696.5 1781.8 2731.7 1750.0 2772.1C1700.0 2835.5 1650.0 2918.8 1600.0 2974.7C1549.9 3030.6 1499.9 3084.0 1449.8 3117.7C1399.8 3151.3 1349.9 3173.4 1300.0 3195.5C1250.0 3217.7 1200.0 3235.8 1150.0 3253.5C1133.4 3259.4 1116.7 3263.5 1100.1 3270.2C1070.2 3282.3 1040.3 3311.2 1010.4 3318.7C986.7 3324.6 963.1 3328.3 939.4 3330.6C889.1 3335.5 838.7 3337.8 788.4 3340.1C738.1 3342.5 687.7 3344.6 637.4 3345.7C586.3 3346.8 535.2 3347.8 484.1 3348.1L492.4 3325.0L492.4 3325.0C515.6 3319.7 538.7 3314.8 561.9 3310.7C588.6 3306.0 615.3 3303.1 641.9 3298.4C670.6 3293.4 699.3 3285.2 728.0 3280.6C758.2 3275.7 788.4 3271.4 818.6 3268.6"/>
<path stroke="#ff00ff" d="M637.4 3279.8C687.7 3271.6 738.1 3264.1 788.4 3257.5C842.3 3250.4 896.1 3243.9 950.0 3238.4C1000.0 3233.3 1050.0 3232.0 1100.1 3224.9C1116.7 3222.6 1133.4 3217.6 1150.0 3213.0C1200.0 3199.4 1250.0 3183.5 1300.0 3161.4C1349.9 3139.3 1399.8 3104.9 1449.8 3068.4C1499.9 3031.8 1549.9 2985.5 1600.0 2934.9C1650.0 2884.4 1700.0 2817.5 1750.0 2759.4C1781.8 2722.3 1813.6 2684.8 1845.4 2648.9C1880.3 2609.6 1915.2 2573.9 1950.0 2533.7C1968.8 2512.1 1987.6 2489.3 2006.4 2466.2L2006.4 2466.2C1987.6 2491.8 1968.8 2517.1 1950.0 2541.7C1915.2 2587.2 1880.3 2631.2 1845.4 2674.4C1813.6 2713.7 1781.8 2750.1 1750.0 2789.6C1700.0 2851.6 1650.0 2927.9 1600.0 2981.8C1549.9 3035.8 1499.9 3088.5 1449.8 3121.7C1399.8 3154.7 1349.9 3177.0 1300.0 3198.7C1250.0 3220.4 1200.0 3238.1 1150.0 3255.1C1133.4 3260.8 1116.7 3264.5 1100.1 3271.0C1070.2 3282.7 1040.3 3312.4 1010.4 3319.5C986.7 3325.1 963.1 3328.5 939.4 3330.6C889.1 3335.1 838.7 3337.1 788.4 3339.3C738.1 3341.6 687.7 3343.8 637.4 3344.9C586.3 3346.0 535.2 3347.0 484.1 3347.3L492.4 3325.0L492.4 3325.0C515.6 3319.9 538.7 3315.2 561.9 3311.1C588.6 3306.5 615.3 3303.5 641.9 3298.8C670.6 3293.8 699.3 3285.6 728.0 3281.0C758.2 3276.1 788.4 3271.8 818.6 3269.0"/>
<path stroke="#008000" d="M637.4 3280.6C687.7 3272.4 738.1 3264.9 788.4 3258.3C842.3 3251.2 896.1 3244.7 950.0 3239.2C1000.0 3234.1 1050.0 3232.8 1100.1 3225.7C1116.7 3223.4 1133.4 3218.3 1150.0 3213.8C1200.0 3200.4 1250.0 3185.8 1300.0 3164.6C1349.9 3143.4 1399.8 3110.1 1449.8 3074.8C1499.9 3039.4 1549.9 2994.2 1600.0 2945.3C1650.0 2896.4 1700.0 2832.8 1750.0 2776.0C1781.8 2739.9 1813.6 2702.6 1845.4 2667.2C1880.3 2628.4 1915.2 2590.9 1950.0 2553.6C1968.8 2533.5 1987.6 2513.7 2006.4 2494.0L2006.4 2494.0C1987.6 2517.1 1968.8 2540.2 1950.0 2563.1C1915.2 2605.7 1880.3 2648.3 1845.4 2690.2C1813.6 2728.5 1781.8 2765.4 1750.0 2803.9C1700.0 2864.2 1650.0 2935.7 1600.0 2988.2C1549.9 3040.7 1499.9 3092.6 1449.8 3125.6C1399.8 3158.5 1349.9 3181.5 1300.0 3202.7C1250.0 3223.9 1200.0 3240.5 1150.0 3256.7C1133.4 3262.1 1116.7 3265.6 1100.1 3271.8C1070.2 3283.0 1040.3 3312.8 1010.4 3319.5C986.7 3324.8 963.1 3327.6 939.4 3329.8C889.1 3334.5 838.7 3337.2 788.4 3339.3C738.1 3341.5 687.7 3343.1 637.4 3344.1C586.3 3345.2 535.2 3346.1 484.1 3346.5L492.4 3325.0L492.4 3325.0C515.6 3320.3 538.7 3315.9 561.9 3311.9C588.6 3307.4 615.3 3304.3 641.9 3299.6C670.6 3294.6 699.3 3286.4 728.0 3281.7C758.2 3276.9 788.4 3272.6 818.6 3269.8"/>
<path stroke="#000080" d="M637.4 3280.6C687.7 3272.4 738.1 3264.9 788.4 3258.3C842.3 3251.2 896.1 3244.7 950.0 3239.2C1000.0 3234.1 1050.0 3232.6 1100.1 3225.7C1116.7 3223.4 1133.4 3218.9 1150.0 3214.6C1200.0 3201.8 1250.0 3186.9 1300.0 3166.1C1349.9 3145.4 1399.8 3113.8 1449.8 3079.5C1499.9 3045.1 1549.9 3000.4 1600.0 2952.4C1650.0 2904.6 1700.0 2843.3 1750.0 2787.2C1781.8 2751.5 1813.6 2713.6 1845.4 2678.3C1880.3 2639.6 1915.2 2604.1 1950.0 2565.5C1968.8 2544.8 1987.6 2523.5 2006.4 2501.9L2006.4 2501.9C1987.6 2526.9 1968.8 2551.4 1950.0 2575.0C1915.2 2619.0 1880.3 2660.2 1845.4 2702.2C1813.6 2740.4 1781.8 2778.0 1750.0 2815.8C1700.0 2875.1 1650.0 2941.6 1600.0 2992.9C1549.9 3044.4 1499.9 3096.9 1449.8 3129.6C1399.8 3162.2 1349.9 3185.4 1300.0 3205.9C1250.0 3226.4 1200.0 3241.6 1150.0 3257.5C1133.4 3262.8 1116.7 3266.4 1100.1 3272.6C1070.2 3283.8 1040.3 3314.0 1010.4 3320.3C986.7 3325.2 963.1 3327.8 939.4 3329.8C889.1 3334.1 838.7 3336.3 788.4 3338.6C738.1 3340.8 687.7 3343.3 637.4 3344.1C586.3 3344.9 535.2 3345.7 484.1 3345.7L492.4 3325.0L492.4 3325.0C515.6 3320.1 538.7 3315.5 561.9 3311.5C588.6 3306.9 615.3 3303.9 641.9 3299.2C670.6 3294.2 699.3 3286.0 728.0 3281.3C758.2 3276.5 788.4 3272.2 818.6 3269.4"/>
<path stroke="#8000ff" d="M637.4 3280.6C687.7 3272.3 738.1 3264.8 788.4 3258.3C842.3 3251.4 896.1 3245.4 950.0 3240.0C1000.0 3235.0 1050.0 3233.4 1100.1 3226.5C1116.7 3224.2 1133.4 3219.6 1150.0 3215.4C1200.0 3202.7 1250.0 3188.0 1300.0 3167.7C1349.9 3147.5 1399.8 3116.6 1449.8 3083.5C1499.9 3050.4 1549.9 3008.9 1600.0 2962.8C1650.0 2916.7 1700.0 2855.6 1750.0 2800.7C1781.8 2765.7 1813.6 2728.9 1845.4 2694.2C1880.3 2656.2 1915.2 2619.4 1950.0 2583.0C1968.8 2563.4 1987.6 2544.1 2006.4 2525.0L2006.4 2525.0C1987.6 2546.5 1968.8 2568.4 1950.0 2590.9C1915.2 2632.8 1880.3 2678.0 1845.4 2720.4C1813.6 2759.2 1781.8 2798.7 1750.0 2834.8C1700.0 2891.6 1650.0 2945.9 1600.0 2995.3C1549.9 3044.9 1499.9 3101.0 1449.8 3133.6C1399.8 3166.1 1349.9 3189.0 1300.0 3209.1C1250.0 3229.1 1200.0 3243.9 1150.0 3259.1C1133.4 3264.2 1116.7 3267.4 1100.1 3273.4C1070.2 3284.2 1040.3 3314.0 1010.4 3320.3C986.7 3325.2 963.1 3327.8 939.4 3329.8C889.1 3334.1 838.7 3336.5 788.4 3338.6C738.1 3340.6 687.7 3342.5 637.4 3343.3C586.3 3344.1 535.2 3344.9 484.1 3344.9L492.4 3325.0L492.4 3325.0C515.6 3320.7 538.7 3316.6 561.9 3312.7C588.6 3308.3 615.3 3305.1 641.9 3300.4C670.6 3295.4 699.3 3287.2 728.0 3282.5C758.2 3277.7 788.4 3273.4 818.6 3270.6"/>
<path stroke="#800080" d="M637.4 3280.6C687.7 3272.3 738.1 3264.8 788.4 3258.3C842.3 3251.4 896.1 3245.4 950.0 3240.0C1000.0 3235.0 1050.0 3233.2 1100.1 3226.5C1116.7 3224.3 1133.4 3220.2 1150.0 3216.2C1200.0 3204.2 1250.0 3188.4 1300.0 3169.3C1349.9 3150.3 1399.8 3126.2 1449.8 3096.2C1499.9 3066.1 1549.9 3023.9 1600.0 2978.6C1650.0 2933.5 1700.0 2872.6 1750.0 2818.2C1781.8 2783.5 1813.6 2747.0 1845.4 2712.5C1880.3 2674.6 1915.2 2638.5 1950.0 2601.3C1968.8 2581.2 1987.6 2561.1 2006.4 2540.9L2006.4 2540.9C1987.6 2562.4 1968.8 2584.9 1950.0 2609.2C1915.2 2654.3 1880.3 2714.2 1845.4 2756.2C1813.6 2794.5 1781.8 2821.7 1750.0 2857.1C1700.0 2912.6 1650.0 2990.4 1600.0 3034.3C1549.9 3078.2 1499.9 3110.4 1449.8 3139.1C1399.8 3167.8 1349.9 3192.8 1300.0 3212.2C1250.0 3231.7 1200.0 3246.2 1150.0 3260.7C1133.4 3265.5 1116.7 3268.4 1100.1 3274.2C1070.2 3284.5 1040.3 3315.3 1010.4 3321.1C986.7 3325.7 963.1 3328.0 939.4 3329.8C889.1 3333.7 838.7 3335.8 788.4 3337.8C738.1 3339.7 687.7 3341.7 637.4 3342.5C586.3 3343.3 535.2 3344.1 484.1 3344.1L492.4 3325.0L492.4 3325.0C515.6 3320.5 538.7 3316.2 561.9 3312.3C588.6 3307.9 615.3 3304.7 641.9 3300.0C670.6 3295.0 699.3 3286.8 728.0 3282.1C758.2 3277.3 788.4 3273.0 818.6 3270.2"/>
<path stroke="#800000" d="M637.4 3275.8C687.7 3267.0 738.1 3258.9 788.4 3252.0C842.3 3244.5 896.1 3236.6 950.0 3232.1C1000.0 3227.9 1050.0 3227.8 1100.1 3222.6C1116.7 3220.8 1133.4 3216.5 1150.0 3213.0C1200.0 3202.5 1250.0 3190.2 1300.0 3175.7C1349.9 3161.1 1399.8 3146.0 1449.8 3123.2C1499.9 3100.5 1549.9 3063.9 1600.0 3025.5C1650.0 2987.2 1700.0 2932.7 1750.0 2885.7C1781.8 2855.7 1813.6 2825.4 1845.4 2795.1C1880.3 2761.9 1915.2 2728.7 1950.0 2695.0C1968.8 2676.9 1987.6 2658.6 2006.4 2640.2L2006.4 2640.2C1987.6 2667.3 1968.8 2693.4 1950.0 2716.5C1915.2 2759.3 1880.3 2797.0 1845.4 2831.7C1813.6 2863.3 1781.8 2888.7 1750.0 2918.3C1700.0 2964.8 1650.0 3021.3 1600.0 3062.1C1549.9 3102.9 1499.9 3140.7 1449.8 3168.5C1399.8 3196.2 1349.9 3219.9 1300.0 3236.9C1250.0 3253.8 1200.0 3267.1 1150.0 3277.4C1133.4 3280.8 1116.7 3282.2 1100.1 3286.1C1070.2 3293.2 1040.3 3318.8 1010.4 3322.7C986.7 3325.7 963.1 3326.7 939.4 3328.2C889.1 3331.5 838.7 3334.2 788.4 3336.2C738.1 3338.2 687.7 3340.2 637.4 3340.9C586.3 3341.7 535.2 3342.5 484.1 3342.5L492.4 3325.0L492.4 3325.0C515.6 3318.9 538.7 3313.4 561.9 3309.2C588.6 3304.2 615.3 3301.5 641.9 3296.8C670.6 3291.8 699.3 3283.6 728.0 3279.0C758.2 3274.1 788.4 3269.8 818.6 3267.0"/>
<path stroke="#808000" d="M637.4 3281.3C687.7 3272.4 738.1 3264.3 788.4 3258.3C842.3 3251.9 896.1 3247.5 950.0 3242.4C1000.0 3237.7 1050.0 3234.9 1100.1 3228.9C1116.7 3226.9 1133.4 3224.2 1150.0 3221.0C1200.0 3211.3 1250.0 3196.2 1300.0 3178.9C1349.9 3161.6 1399.8 3138.0 1449.8 3111.3C1499.9 3084.6 1549.9 3051.4 1600.0 3012.8C1650.0 2974.3 1700.0 2917.7 1750.0 2873.0C1781.8 2844.5 1813.6 2817.3 1845.4 2790.3C1880.3 2760.8 1915.2 2732.2 1950.0 2703.7C1968.8 2688.5 1987.6 2673.4 2006.4 2658.5L2006.4 2658.5C1987.6 2678.3 1968.8 2697.8 1950.0 2716.5C1915.2 2751.1 1880.3 2784.0 1845.4 2815.8C1813.6 2844.7 1781.8 2870.1 1750.0 2899.2C1700.0 2945.0 1650.0 3003.7 1600.0 3044.6C1549.9 3085.6 1499.9 3123.5 1449.8 3151.1C1399.8 3178.6 1349.9 3200.1 1300.0 3218.6C1250.0 3237.0 1200.0 3252.8 1150.0 3265.5C1133.4 3269.7 1116.7 3271.7 1100.1 3276.6C1070.2 3285.4 1040.3 3315.6 1010.4 3319.5C986.7 3322.6 963.1 3323.6 939.4 3325.0C889.1 3328.1 838.7 3330.5 788.4 3332.2C738.1 3333.9 687.7 3335.2 637.4 3336.2C586.3 3337.2 535.2 3338.0 484.1 3338.6L492.4 3325.0L492.4 3325.0C515.6 3319.3 538.7 3314.1 561.9 3310.0C588.6 3305.1 615.3 3302.3 641.9 3297.6C670.6 3292.6 699.3 3284.4 728.0 3279.8C758.2 3274.9 788.4 3270.6 818.6 3267.8"/>
<path stroke="#0068b2" d="M637.4 3283.7C687.7 3276.2 738.1 3269.6 788.4 3264.7C842.3 3259.4 896.1 3254.4 950.0 3252.0C1000.0 3249.7 1050.0 3249.6 1100.1 3247.2C1116.7 3246.4 1133.4 3244.5 1150.0 3243.2C1200.0 3239.2 1250.0 3236.1 1300.0 3231.3C1349.9 3226.5 1399.8 3221.6 1449.8 3213.0C1499.9 3204.5 1549.9 3187.5 1600.0 3170.1C1650.0 3152.7 1700.0 3129.7 1750.0 3103.4C1781.8 3086.6 1813.6 3062.8 1845.4 3043.8C1880.3 3023.0 1915.2 3003.1 1950.0 2984.2C1968.8 2974.0 1987.6 2964.3 2006.4 2954.8L2006.4 2954.8C1987.6 2965.7 1968.8 2976.8 1950.0 2988.2C1915.2 3009.3 1880.3 3030.9 1845.4 3053.3C1813.6 3073.8 1781.8 3099.3 1750.0 3116.9C1700.0 3144.5 1650.0 3165.3 1600.0 3186.0C1549.9 3206.7 1499.9 3228.6 1449.8 3242.4C1399.8 3256.2 1349.9 3265.8 1300.0 3275.0C1250.0 3284.2 1200.0 3295.5 1150.0 3298.8C1133.4 3300.0 1116.7 3300.1 1100.1 3301.2C1070.2 3303.2 1040.3 3309.6 1010.4 3311.5C986.7 3313.0 963.1 3313.6 939.4 3314.7C889.1 3317.0 838.7 3320.7 788.4 3321.9C738.1 3323.1 687.7 3324.3 637.4 3324.3C586.3 3324.3 535.2 3324.3 484.1 3324.3L486.4 3321.9L486.4 3321.9C501.5 3317.4 516.6 3313.0 531.7 3309.2C566.9 3300.2 602.2 3291.9 637.4 3285.3"/>
</g>
<path d="M327.0 2008.0H2162.0V3458.0H327.0ZM342.0 2024.5V3440.0H2146.0V2024.5Z" fill="#000" fill-rule="evenodd"/>
<g fill="#000"><rect x="478.7" y="3423.0" width="15.4" height="18"/><rect x="781.6" y="3423.0" width="15.4" height="18"/><rect x="1084.5" y="3423.0" width="15.4" height="18"/><rect x="1387.5" y="3423.0" width="15.4" height="18"/><rect x="1690.4" y="3423.0" width="15.4" height="18"/><rect x="1993.3" y="3423.0" width="15.4" height="18"/><rect x="629.9" y="3434.5" width="16" height="8" rx="4"/><rect x="932.8" y="3434.5" width="16" height="8" rx="4"/><rect x="1235.7" y="3434.5" width="16" height="8" rx="4"/><rect x="1538.6" y="3434.5" width="16" height="8" rx="4"/><rect x="1841.5" y="3434.5" width="16" height="8" rx="4"/><rect x="341.0" y="3280.0" width="21.0" height="17"/><rect x="341.0" y="2882.8" width="21.0" height="17"/><rect x="341.0" y="2485.5" width="21.0" height="17"/><rect x="341.0" y="2088.2" width="21.0" height="17"/><rect x="341.0" y="3081.4" width="8" height="17" rx="3"/><rect x="341.0" y="2684.1" width="8" height="17" rx="3"/><rect x="341.0" y="2286.9" width="8" height="17" rx="3"/></g>
<rect x="404.6" y="2070.6" width="546.5" height="1026" fill="#fff" stroke="#505050" stroke-width="2.5"/>
<line x1="432.5" y1="2125.0" x2="586.5" y2="2125.0" stroke="#000000" stroke-width="16" stroke-linecap="round"/>
<text transform="translate(603.45 2145.70) scale(0.6937 0.7197)" font-family="Liberation Sans, Arial, sans-serif" font-size="100" font-weight="normal" fill="#000" text-anchor="start" stroke="#000" stroke-width="4.81" stroke-linejoin="round">1M Urea</text>
<line x1="432.5" y1="2218.2" x2="586.5" y2="2218.2" stroke="#ff0000" stroke-width="16" stroke-linecap="round"/>
<text transform="translate(605.13 2238.85) scale(0.6937 0.7197)" font-family="Liberation Sans, Arial, sans-serif" font-size="100" font-weight="normal" fill="#000" text-anchor="start" stroke="#000" stroke-width="4.81" stroke-linejoin="round">0.9M Urea</text>
<line x1="432.5" y1="2311.3" x2="586.5" y2="2311.3" stroke="#0000ff" stroke-width="16" stroke-linecap="round"/>
<text transform="translate(605.13 2332.00) scale(0.6937 0.7197)" font-family="Liberation Sans, Arial, sans-serif" font-size="100" font-weight="normal" fill="#000" text-anchor="start" stroke="#000" stroke-width="4.81" stroke-linejoin="round">0.8M Urea</text>
<line x1="432.5" y1="2404.4" x2="586.5" y2="2404.4" stroke="#ff00ff" stroke-width="16" stroke-linecap="round"/>
<text transform="translate(605.13 2425.15) scale(0.6937 0.7197)" font-family="Liberation Sans, Arial, sans-serif" font-size="100" font-weight="normal" fill="#000" text-anchor="start" stroke="#000" stroke-width="4.81" stroke-linejoin="round">0.7M Urea</text>
<line x1="432.5" y1="2497.6" x2="586.5" y2="2497.6" stroke="#008000" stroke-width="16" stroke-linecap="round"/>
<text transform="translate(605.13 2518.30) scale(0.6937 0.7197)" font-family="Liberation Sans, Arial, sans-serif" font-size="100" font-weight="normal" fill="#000" text-anchor="start" stroke="#000" stroke-width="4.81" stroke-linejoin="round">0.6M Urea</text>
<line x1="432.5" y1="2590.8" x2="586.5" y2="2590.8" stroke="#000080" stroke-width="16" stroke-linecap="round"/>
<text transform="translate(605.13 2611.45) scale(0.6937 0.7197)" font-family="Liberation Sans, Arial, sans-serif" font-size="100" font-weight="normal" fill="#000" text-anchor="start" stroke="#000" stroke-width="4.81" stroke-linejoin="round">0.5M Urea</text>
<line x1="432.5" y1="2683.9" x2="586.5" y2="2683.9" stroke="#8000ff" stroke-width="16" stroke-linecap="round"/>
<text transform="translate(605.13 2704.60) scale(0.6937 0.7197)" font-family="Liberation Sans, Arial, sans-serif" font-size="100" font-weight="normal" fill="#000" text-anchor="start" stroke="#000" stroke-width="4.81" stroke-linejoin="round">0.4M Urea</text>
<line x1="432.5" y1="2777.1" x2="586.5" y2="2777.1" stroke="#800080" stroke-width="16" stroke-linecap="round"/>
<text transform="translate(605.13 2797.75) scale(0.6937 0.7197)" font-family="Liberation Sans, Arial, sans-serif" font-size="100" font-weight="normal" fill="#000" text-anchor="start" stroke="#000" stroke-width="4.81" stroke-linejoin="round">0.3M Urea</text>
<line x1="432.5" y1="2870.2" x2="586.5" y2="2870.2" stroke="#800000" stroke-width="16" stroke-linecap="round"/>
<text transform="translate(605.13 2890.90) scale(0.6937 0.7197)" font-family="Liberation Sans, Arial, sans-serif" font-size="100" font-weight="normal" fill="#000" text-anchor="start" stroke="#000" stroke-width="4.81" stroke-linejoin="round">0.2M Urea</text>
<line x1="432.5" y1="2963.3" x2="586.5" y2="2963.3" stroke="#808000" stroke-width="16" stroke-linecap="round"/>
<text transform="translate(605.13 2984.05) scale(0.6937 0.7197)" font-family="Liberation Sans, Arial, sans-serif" font-size="100" font-weight="normal" fill="#000" text-anchor="start" stroke="#000" stroke-width="4.81" stroke-linejoin="round">0.1M Urea</text>
<line x1="432.5" y1="3056.5" x2="586.5" y2="3056.5" stroke="#0068b2" stroke-width="16" stroke-linecap="round"/>
<text transform="translate(605.13 3077.20) scale(0.6937 0.7197)" font-family="Liberation Sans, Arial, sans-serif" font-size="100" font-weight="normal" fill="#000" text-anchor="start" stroke="#000" stroke-width="4.81" stroke-linejoin="round">0M Urea</text>
<text transform="translate(274.88 3306.36) scale(0.7573 0.7930)" font-family="Liberation Sans, Arial, sans-serif" font-size="100" font-weight="bold" fill="#000" text-anchor="start" stroke="#000" stroke-width="1.81" stroke-linejoin="round">0</text>
<text transform="translate(232.47 2909.11) scale(0.7573 0.7930)" font-family="Liberation Sans, Arial, sans-serif" font-size="100" font-weight="bold" fill="#000" text-anchor="start" stroke="#000" stroke-width="1.81" stroke-linejoin="round">50</text>
<text transform="translate(190.06 2510.36) scale(0.7573 0.7930)" font-family="Liberation Sans, Arial, sans-serif" font-size="100" font-weight="bold" fill="#000" text-anchor="start" stroke="#000" stroke-width="1.81" stroke-linejoin="round">100</text>
<text transform="translate(190.06 2114.61) scale(0.7573 0.7930)" font-family="Liberation Sans, Arial, sans-serif" font-size="100" font-weight="bold" fill="#000" text-anchor="start" stroke="#000" stroke-width="1.81" stroke-linejoin="round">150</text>
<text transform="translate(434.54 3528.21) scale(0.7748 0.7859)" font-family="Liberation Sans, Arial, sans-serif" font-size="100" font-weight="bold" fill="#000" text-anchor="start" stroke="#000" stroke-width="1.79" stroke-linejoin="round">0.0</text>
<text transform="translate(737.46 3528.21) scale(0.7748 0.7859)" font-family="Liberation Sans, Arial, sans-serif" font-size="100" font-weight="bold" fill="#000" text-anchor="start" stroke="#000" stroke-width="1.79" stroke-linejoin="round">0.2</text>
<text transform="translate(1040.38 3528.21) scale(0.7748 0.7859)" font-family="Liberation Sans, Arial, sans-serif" font-size="100" font-weight="bold" fill="#000" text-anchor="start" stroke="#000" stroke-width="1.79" stroke-linejoin="round">0.4</text>
<text transform="translate(1343.30 3528.21) scale(0.7748 0.7859)" font-family="Liberation Sans, Arial, sans-serif" font-size="100" font-weight="bold" fill="#000" text-anchor="start" stroke="#000" stroke-width="1.79" stroke-linejoin="round">0.6</text>
<text transform="translate(1646.22 3528.21) scale(0.7748 0.7859)" font-family="Liberation Sans, Arial, sans-serif" font-size="100" font-weight="bold" fill="#000" text-anchor="start" stroke="#000" stroke-width="1.79" stroke-linejoin="round">0.8</text>
<text transform="translate(1949.20 3528.21) scale(0.7748 0.7859)" font-family="Liberation Sans, Arial, sans-serif" font-size="100" font-weight="bold" fill="#000" text-anchor="start" stroke="#000" stroke-width="1.79" stroke-linejoin="round">1.0</text>
<text transform="translate(719.52 3654.19) scale(0.8971 0.8862)" font-family="Liberation Sans, Arial, sans-serif" font-size="100" font-weight="bold" fill="#000" text-anchor="start" stroke="#000" stroke-width="1.57" stroke-linejoin="round">Potential V,vs Ag/AgCl</text>
<text transform="translate(158.50 3262.30) rotate(-90) scale(0.9259 0.9000)" font-family="Liberation Sans, Arial, sans-serif" font-size="100" font-weight="bold" fill="#000" text-anchor="start" stroke="#000" stroke-width="1.53" stroke-linejoin="round">Current denesity</text>
<text transform="translate(160.12 2501.12) rotate(-90) scale(0.7192 0.7468)" font-family="Liberation Sans, Arial, sans-serif" font-size="100" font-weight="normal" fill="#000" text-anchor="start" stroke="#000" stroke-width="0.82" stroke-linejoin="round">(</text>
<text transform="translate(159.10 2474.60) rotate(-90) scale(0.9284 0.8959)" font-family="Liberation Sans, Arial, sans-serif" font-size="100" font-weight="bold" fill="#000" text-anchor="start" stroke="#000" stroke-width="1.53" stroke-linejoin="round">mA/cm</text>
<text transform="translate(129.50 2159.16) rotate(-90) scale(0.8857 1.0814)" font-family="Liberation Sans, Arial, sans-serif" font-size="100" font-weight="bold" fill="#000" text-anchor="start" stroke="#000" stroke-width="1.42" stroke-linejoin="round">2</text>
<text transform="translate(160.42 2102.21) rotate(-90) scale(0.6077 0.7277)" font-family="Liberation Sans, Arial, sans-serif" font-size="100" font-weight="normal" fill="#000" text-anchor="start" stroke="#000" stroke-width="0.90" stroke-linejoin="round">)</text>
<text transform="translate(1069.41 2152.45) scale(1.1974 1.1833)" font-family="Liberation Serif, Times New Roman, serif" font-size="100" font-weight="bold" fill="#000" text-anchor="start" stroke="#000" stroke-width="0.67" stroke-linejoin="round">(b)</text>
<text transform="translate(1667.42 2123.54) scale(0.8888 0.9643)" font-family="Liberation Serif, Times New Roman, serif" font-size="100" font-weight="bold" fill="#960000" text-anchor="start" stroke="#960000" stroke-width="0.65" stroke-linejoin="round">Biochar/RM</text>
</svg></body></html>
